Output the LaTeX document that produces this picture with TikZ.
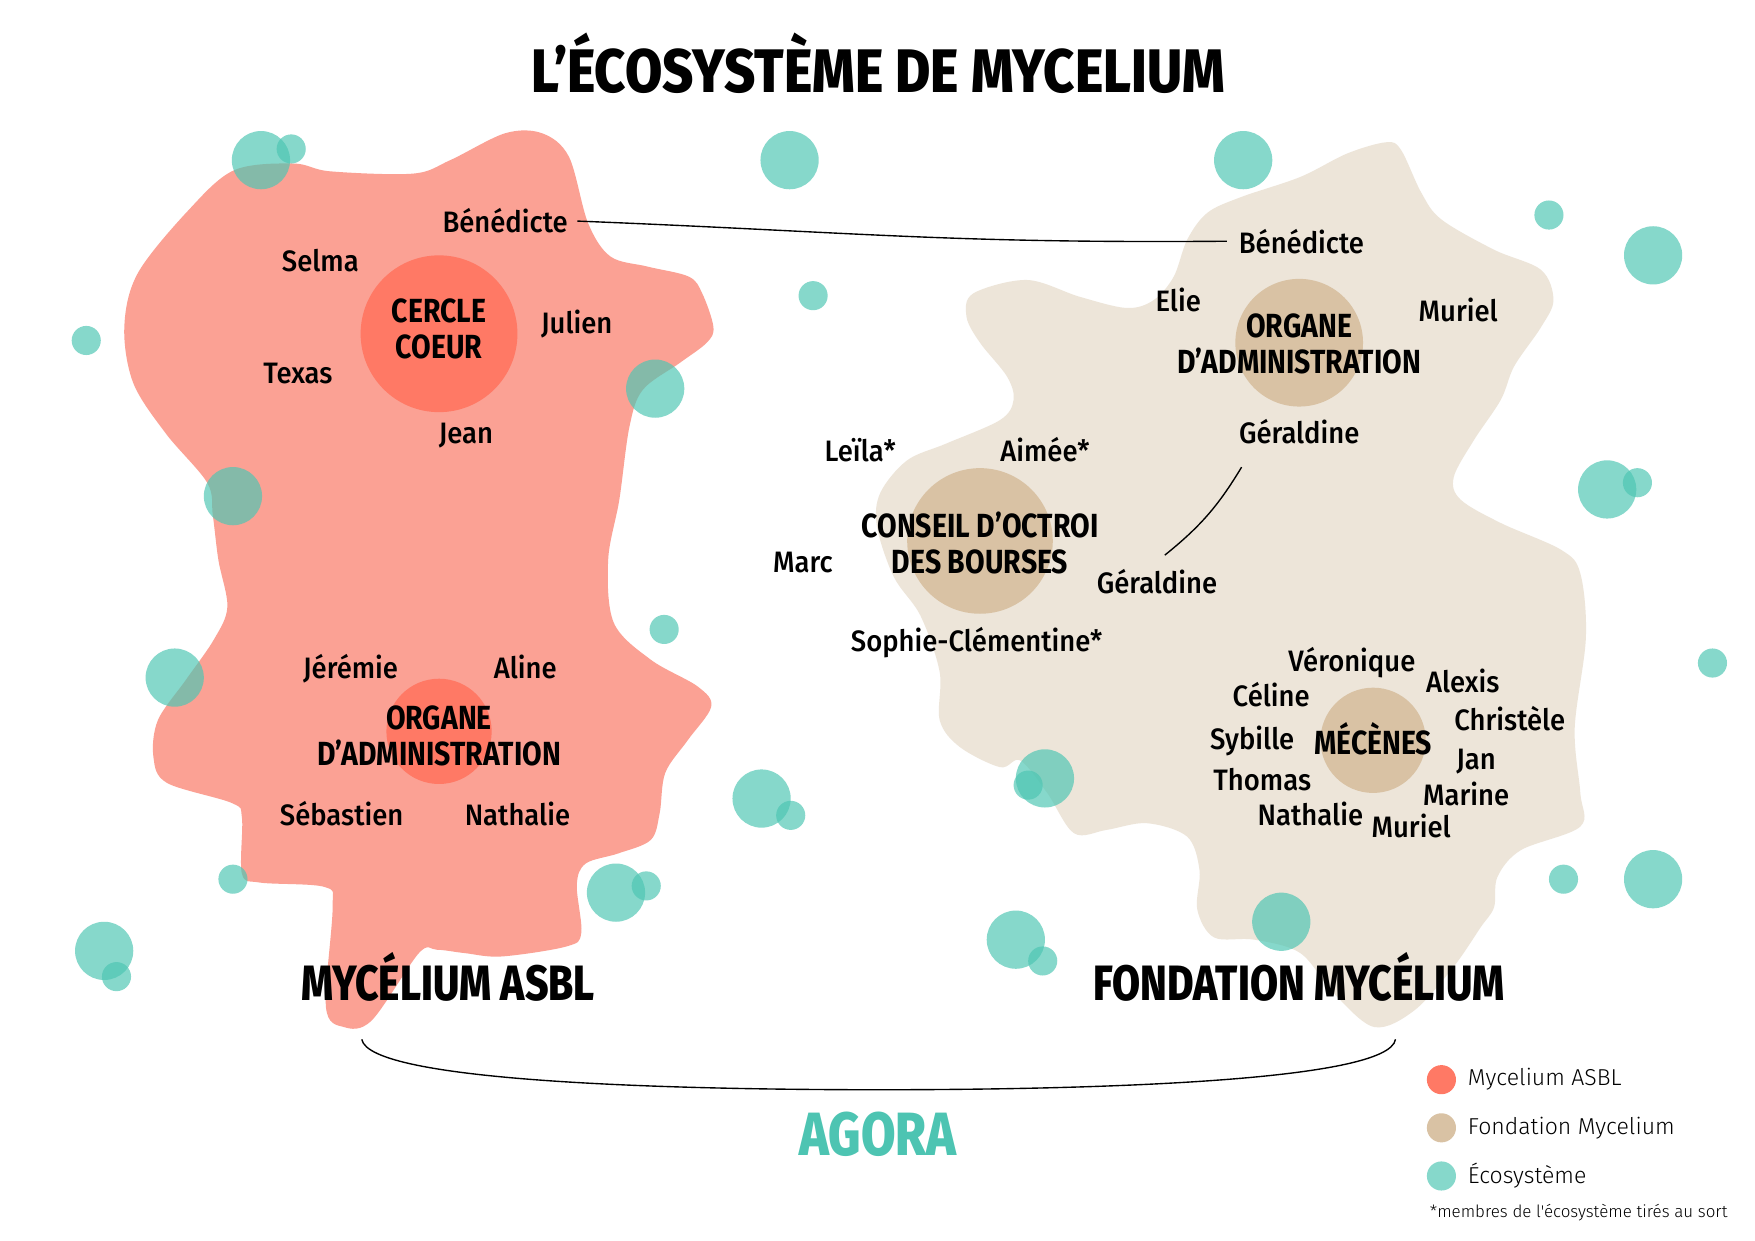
\documentclass[tikz,border=0pt]{standalone}
\usepackage{fontspec}
\setmainfont{Fira Sans}
\newfontfamily\namefont{Fira Sans Medium}[FakeStretch=0.93]
\newfontfamily\boldcond{Fira Sans Bold}[FakeStretch=0.85]
\newfontfamily\heavycond{Fira Sans ExtraBold}[FakeStretch=0.82]
\newfontfamily\titlefont{Fira Sans ExtraBold}[FakeStretch=0.88]
\newfontfamily\legendfont{Fira Sans Light}
\definecolor{asblpink}{RGB}{251, 161, 148}
\definecolor{asblcore}{RGB}{255, 121, 101}
\definecolor{fondbeige}{RGB}{237, 229, 217}
\definecolor{fondcore}{RGB}{217, 194, 164}
\definecolor{ecoteal}{RGB}{77, 198, 179}
\definecolor{agorateal}{RGB}{77, 196, 178}
\usetikzlibrary{positioning, calc}

\begin{document}
\begin{tikzpicture}[x=0.1mm, y=-0.1mm,
    person/.style={font=\namefont\fontsize{7.5}{9}\selectfont, inner sep=0pt, anchor=base},
    bodylabel/.style={font=\boldcond\fontsize{8.5}{9.1}\selectfont, align=center, inner sep=0pt},
    bigtitle/.style={font=\heavycond\fontsize{12.6}{14}\selectfont, inner sep=0pt, anchor=base},
    eco/.style={fill=ecoteal, fill opacity=0.68},
    link/.style={draw=black, line width=0.35pt},
    legendtext/.style={font=\legendfont\fontsize{5.85}{7}\selectfont, anchor=west, inner sep=0pt}]

  \useasboundingbox (0,0) rectangle (1567,1108);
  \fill[white] (0,0) rectangle (1567,1108);

  % Mycelium ASBL
  \fill[asblpink] plot[smooth cycle, tension=0.55] coordinates {
    (168,188) (209,152) (262,146) (295,153) (369,155) (402,143) (451,119)
    (484,119) (508,140) (525,199) (545,229) (578,238) (615,247) (627,262)
    (637,292) (631,306) (607,324) (574,348) (562,381) (553,446) (543,500)
    (548,556) (581,589) (623,613) (635,631) (614,661) (594,690) (589,726)
    (581,750) (552,762) (523,771) (515,790) (519,833) (506,845) (448,854)
    (415,851) (390,848) (374,851) (332,911) (307,917) (291,899) (297,810)
    (290,792) (232,788) (216,780) (216,730) (207,717) (149,699) (137,676)
    (141,643) (166,607) (191,571) (203,542) (195,500) (190,460) (185,431)
    (148,387) (119,342) (111,292) (123,244)};

  % Fondation Mycelium
  \fill[fondbeige] plot[smooth cycle, tension=0.55] coordinates {
    (1238,127) (1251,134) (1269,172) (1287,196) (1334,223) (1376,241)
    (1387,268) (1376,292) (1352,327) (1340,357) (1316,393) (1298,426)
    (1304,446) (1340,467) (1394,491) (1411,512) (1416,569) (1406,650)
    (1411,708) (1411,738) (1358,759) (1337,783) (1334,810) (1322,828)
    (1298,863) (1263,902) (1227,917) (1191,887) (1161,851) (1120,839)
    (1084,837) (1069,812) (1071,777) (1060,747) (1024,735) (988,741)
    (959,744) (935,708) (911,679) (893,685) (857,667) (839,643) (839,600)
    (822,550) (798,515) (783,470) (786,440) (810,411) (845,396) (893,375)
    (905,357) (899,336) (875,306) (863,283) (869,262) (917,250) (964,265)
    (1006,275) (1030,268) (1048,247) (1060,214) (1078,190) (1108,176)
    (1161,158) (1203,137)};

  % cercles internes
  \fill[asblcore] (392,298) circle[radius=70];
  \fill[asblcore] (392,653) circle[radius=47];
  \fill[fondcore] (1160,306) circle[radius=57];
  \fill[fondcore] (875,483) circle[radius=65];
  \fill[fondcore] (1226,661) circle[radius=47];

  % Ecosysteme
  \foreach \cx/\cy/\r in {233/143/26, 260/133/13, 705/143/26, 1110/143/26,
      1383/192/13, 1476/228/26, 77/304/13, 726/264/13, 585/347/26,
      208/443/26, 1435/437/26, 1462/431/13, 593/562/13, 156/605/26,
      1529/592/13, 680/713/26, 706/728/13, 933/695/26, 918/701/13,
      1396/785/13, 1476/785/26, 208/785/13, 550/797/26, 577/791/13,
      93/849/26, 104/872/13, 907/839/26, 931/858/13, 1144/823/26}
    \fill[eco] (\cx,\cy) circle[radius=\r];

  % Titre
  \node[font=\titlefont\fontsize{15.6}{18}\selectfont, inner sep=0pt, anchor=base] (title) at (784,83) {L’ÉCOSYSTÈME DE MYCELIUM};

  % Mycelium ASBL : membres
  \node[bodylabel] (cercle) at (392,294) {CERCLE\\COEUR};
  \node[person] (benedA) at (451,208) {Bénédicte};
  \node[person] (selma) at (286,242) {Selma};
  \node[person] (julien) at (515,298) {Julien};
  \node[person] (texas) at (266,342) {Texas};
  \node[person] (jean) at (416,396) {Jean};
  \node[bodylabel] (organeA) at (392,657) {ORGANE\\D’ADMINISTRATION};
  \node[person] (jeremie) at (313,606) {Jérémie};
  \node[person] (aline) at (469,606) {Aline};
  \node[person] (sebastien) at (305,737) {Sébastien};
  \node[person] (nathalieA) at (462,737) {Nathalie};
  \node[bigtitle] (asbl) at (400,893) {MYCÉLIUM ASBL};

  % Fondation Mycelium : membres
  \node[bodylabel] (organeF) at (1160,307) {ORGANE\\D’ADMINISTRATION};
  \node[person] (benedF) at (1162,226) {Bénédicte};
  \node[person] (elie) at (1052,278) {Elie};
  \node[person] (murielA) at (1302,287) {Muriel};
  \node[person] (geraldA) at (1160,396) {Géraldine};
  \node[bodylabel] (conseil) at (875,485) {CONSEIL D’OCTROI\\DES BOURSES};
  \node[person] (leila) at (768,412) {Leïla*};
  \node[person] (aimee) at (933,412) {Aimée*};
  \node[person] (marc) at (717,511) {Marc};
  \node[person] (geraldB) at (1033,530) {Géraldine};
  \node[person] (sophie) at (872,582) {Sophie-Clémentine*};
  \node[bodylabel] (mecenes) at (1226,660) {MÉCÈNES};
  \node[person] (veronique) at (1207,600) {Véronique};
  \node[person] (alexis) at (1306,618) {Alexis};
  \node[person] (celine) at (1135,631) {Céline};
  \node[person] (christele) at (1348,652) {Christèle};
  \node[person] (sybille) at (1118,669) {Sybille};
  \node[person] (jan) at (1318,687) {Jan};
  \node[person] (thomas) at (1127,706) {Thomas};
  \node[person] (marine) at (1309,719) {Marine};
  \node[person] (nathalieB) at (1170,737) {Nathalie};
  \node[person] (murielB) at (1260,748) {Muriel};
  \node[bigtitle] (fondation) at (1160,893) {FONDATION MYCÉLIUM};

  % liens
  \draw[link] ([xshift=0.8mm]benedA.east) .. controls +(250,10) and +(-250,2) .. ([xshift=-1mm]benedF.west);
  \draw[link] ([shift={(3,20)}]geraldA.south west) to[bend left=10] ([shift={(7,-12)}]geraldB.north);

  % Agora
  \coordinate (agoraL) at (323,928);
  \coordinate (agoraR) at (1246,928);
  \draw[link] (agoraL) .. controls (330,966) and (600,973) .. (785,973)
    .. controls (970,973) and (1240,966) .. (agoraR);
  \node[font=\heavycond\fontsize{15.5}{18}\selectfont, text=agorateal, inner sep=0pt, anchor=base] (agora) at (784,1032) {AGORA};

  % Legende
  \fill[asblcore] (1287,964) circle[radius=13];
  \fill[fondcore] (1287,1007) circle[radius=13];
  \fill[eco] (1287,1050) circle[radius=13];
  \node[legendtext] (legA) at (1310,964) {Mycelium ASBL};
  \node[legendtext] (legF) at (1310,1007) {Fondation Mycelium};
  \node[legendtext] (legE) at (1310,1050) {Écosystème};
  \node[legendtext, font=\legendfont\fontsize{4.3}{5}\selectfont] (note) at (1276,1083) {*membres de l'écosystème tirés au sort};
\end{tikzpicture}
\end{document}
